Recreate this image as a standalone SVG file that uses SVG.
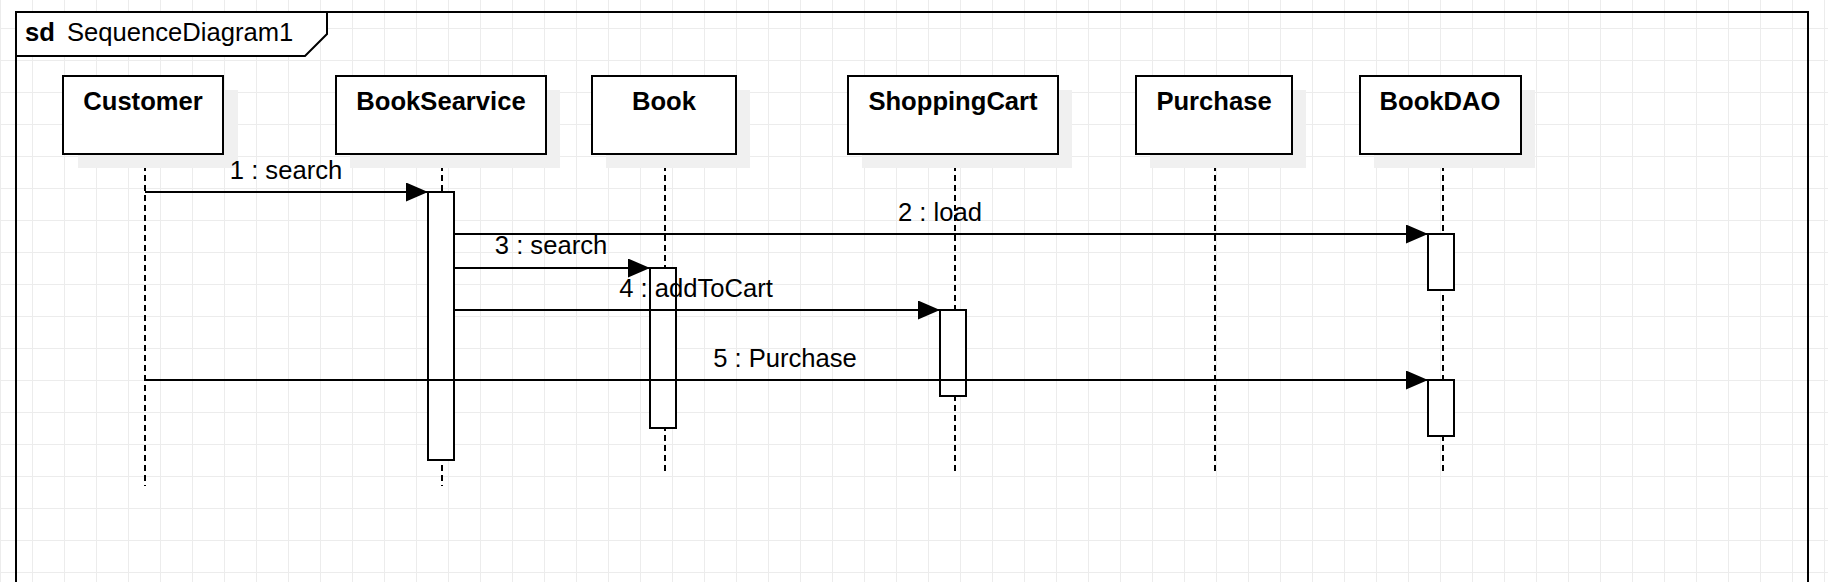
<svg xmlns="http://www.w3.org/2000/svg" width="1828" height="582" viewBox="0 0 1828 582">
<defs>
<pattern id="grid" x="0" y="-4" width="32" height="32" patternUnits="userSpaceOnUse">
<path d="M0.5,0 V32 M0,0.5 H32" fill="none" stroke="#ececec" stroke-width="1"/>
</pattern>
<marker id="arrow" viewBox="0 0 22 19" refX="22" refY="9.5" markerWidth="22" markerHeight="19" markerUnits="userSpaceOnUse" orient="auto">
<path d="M0,0 L22,9.5 L0,19 Z" fill="#000"/>
</marker>
<style>
.box{fill:#fff;stroke:#000;stroke-width:2}
.shadow{fill:#f0f0f0;stroke:none}
.act{fill:#fff;stroke:#000;stroke-width:2}
.life{stroke:#000;stroke-width:2;stroke-dasharray:6 4;fill:none}
.msg{stroke:#000;stroke-width:2;fill:none;marker-end:url(#arrow)}
.name{font-family:"Liberation Sans",Arial,sans-serif;font-size:25.6px;font-weight:bold;text-anchor:middle;fill:#000}
.lbl{font-family:"Liberation Sans",Arial,sans-serif;font-size:25.6px;text-anchor:middle;fill:#000}
</style>
</defs>
<rect x="0" y="0" width="1828" height="582" fill="#fff"/>
<rect x="0" y="0" width="1828" height="582" fill="url(#grid)"/>

<g id="frame">
<rect x="16" y="12" width="1792" height="600" fill="none" stroke="#000" stroke-width="2"/>
<path d="M16,12 H327 V34 L305,56 H16 Z" fill="#fff" stroke="#000" stroke-width="2"/>
<text x="25" y="41" font-family="'Liberation Sans',Arial,sans-serif" font-size="25.6" font-weight="bold" fill="#000">sd</text>
<text x="67" y="41" font-family="'Liberation Sans',Arial,sans-serif" font-size="25.6" fill="#000">SequenceDiagram1</text>
</g>

<g id="lifelines">
<line class="life" x1="145" y1="155" x2="145" y2="486"/>
<line class="life" x1="442" y1="155" x2="442" y2="486"/>
<line class="life" x1="665" y1="155" x2="665" y2="473"/>
<line class="life" x1="955" y1="155" x2="955" y2="473"/>
<line class="life" x1="1215" y1="155" x2="1215" y2="473"/>
<line class="life" x1="1443" y1="155" x2="1443" y2="473"/>
</g>

<g id="Customer">
<rect class="shadow" x="78" y="90" width="160" height="78"/>
<rect class="box" x="63" y="76" width="160" height="78"/>
<text class="name" x="143" y="110">Customer</text>
</g>
<g id="BookSearvice">
<rect class="shadow" x="350" y="90" width="210" height="78"/>
<rect class="box" x="336" y="76" width="210" height="78"/>
<text class="name" x="441" y="110">BookSearvice</text>
<rect class="act" x="428" y="192" width="26" height="268"/>
</g>
<g id="Book">
<rect class="shadow" x="606" y="90" width="144" height="78"/>
<rect class="box" x="592" y="76" width="144" height="78"/>
<text class="name" x="664" y="110">Book</text>
<rect class="act" x="650" y="268" width="26" height="160"/>
</g>
<g id="ShoppingCart">
<rect class="shadow" x="862" y="90" width="210" height="78"/>
<rect class="box" x="848" y="76" width="210" height="78"/>
<text class="name" x="953" y="110">ShoppingCart</text>
<rect class="act" x="940" y="310" width="26" height="86"/>
</g>
<g id="Purchase">
<rect class="shadow" x="1150" y="90" width="156" height="78"/>
<rect class="box" x="1136" y="76" width="156" height="78"/>
<text class="name" x="1214" y="110">Purchase</text>
</g>
<g id="BookDAO">
<rect class="shadow" x="1374" y="90" width="161" height="78"/>
<rect class="box" x="1360" y="76" width="161" height="78"/>
<text class="name" x="1440" y="110">BookDAO</text>
<rect class="act" x="1428" y="234" width="26" height="56"/>
<rect class="act" x="1428" y="380" width="26" height="56"/>
</g>

<g id="connectors">
<line class="msg" x1="145" y1="192" x2="428" y2="192"/>
<text class="lbl" x="286" y="179">1 : search</text>
<line class="msg" x1="454" y1="234" x2="1428" y2="234"/>
<text class="lbl" x="940" y="221">2 : load</text>
<line class="msg" x1="454" y1="268" x2="650" y2="268"/>
<text class="lbl" x="551" y="254">3 : search</text>
<line class="msg" x1="454" y1="310" x2="940" y2="310"/>
<text class="lbl" x="696" y="297">4 : addToCart</text>
<line class="msg" x1="145" y1="380" x2="1428" y2="380"/>
<text class="lbl" x="785" y="367">5 : Purchase</text>
</g>
</svg>
